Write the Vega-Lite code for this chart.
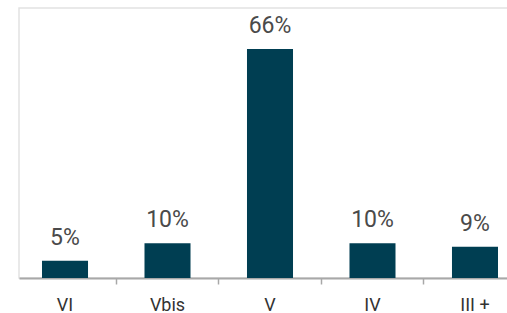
{
  "$schema": "https://vega.github.io/schema/vega-lite/v6.json",
  "width": 502,
  "height": 270,
  "autosize": {"type": "none"},
  "padding": {"left": 19, "top": 8, "right": 0, "bottom": 35},
  "background": "#ffffff",
  "config": {
    "view": {"stroke": "#e2e2e2", "strokeWidth": 1.5},
    "font": "Roboto"
  },
  "data": {
    "values": [
      {"category": "VI", "value": 5, "label": "5%"},
      {"category": "Vbis", "value": 10, "label": "10%"},
      {"category": "V", "value": 66, "label": "66%"},
      {"category": "IV", "value": 10, "label": "10%"},
      {"category": "III +", "value": 9, "label": "9%"}
    ]
  },
  "encoding": {
    "x": {
      "field": "category",
      "type": "nominal",
      "sort": null,
      "scale": {"paddingInner": 0.551, "paddingOuter": 0.2244},
      "axis": {
        "title": null,
        "labelAngle": 0,
        "labelFontSize": 18,
        "labelColor": "#333333",
        "labelPadding": 12,
        "domainColor": "#a8a8a8",
        "domainWidth": 2,
        "tickColor": "#a8a8a8",
        "tickSize": 6,
        "tickWidth": 1.5,
        "bandPosition": 1.614
      }
    },
    "y": {
      "field": "value",
      "type": "quantitative",
      "scale": {"domain": [0, 77.8], "nice": false},
      "axis": null
    }
  },
  "layer": [
    {"mark": {"type": "bar", "color": "#003e52"}},
    {
      "mark": {"type": "text", "baseline": "alphabetic", "dy": -16, "fontSize": 23, "color": "#4a4a4a"},
      "encoding": {"text": {"field": "label"}}
    }
  ]
}
